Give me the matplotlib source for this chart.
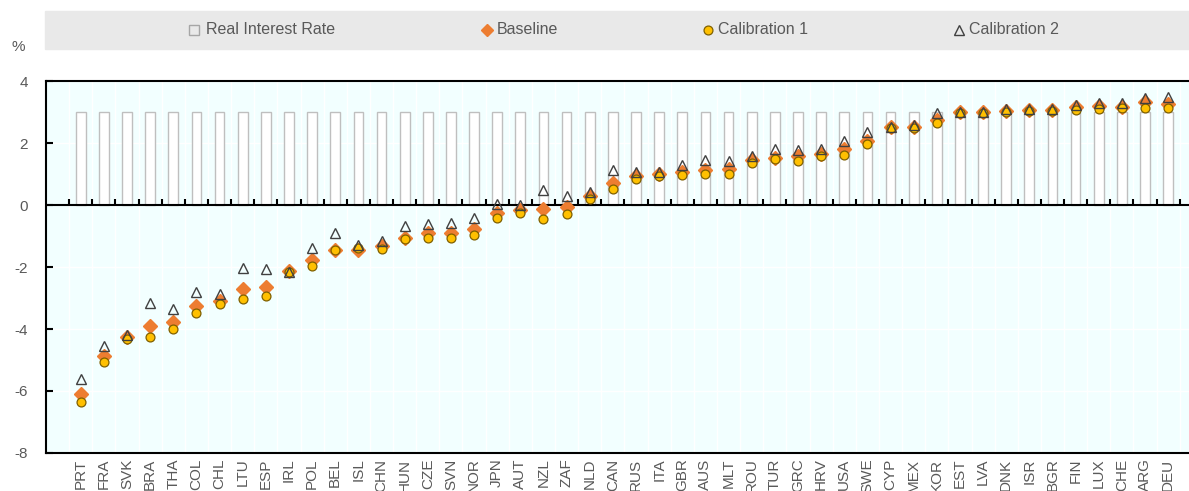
import numpy as np
import matplotlib.pyplot as plt
from matplotlib.lines import Line2D
from matplotlib.patches import Rectangle

plt.rcParams['font.family'] = ['Liberation Sans', 'DejaVu Sans']
plt.rcParams['axes.unicode_minus'] = False

countries = ['PRT', 'FRA', 'SVK', 'BRA', 'THA', 'COL', 'CHL', 'LTU', 'ESP', 'IRL',
             'POL', 'BEL', 'ISL', 'CHN', 'HUN', 'CZE', 'SVN', 'NOR', 'JPN', 'AUT',
             'NZL', 'ZAF', 'NLD', 'CAN', 'RUS', 'ITA', 'GBR', 'AUS', 'MLT', 'ROU',
             'TUR', 'GRC', 'HRV', 'USA', 'SWE', 'CYP', 'MEX', 'KOR', 'EST', 'LVA',
             'DNK', 'ISR', 'BGR', 'FIN', 'LUX', 'CHE', 'ARG', 'DEU']

real_rate = [3, 3, 3, 3, 3, 3, 3, 3, 3, 3,
             3, 3, 3, 3, 3, 3, 3, 3, 3, 3,
             3, 3, 3, 3, 3, 3, 3, 3, 3, 3,
             3, 3, 3, 3, 3, 3, 3, 3, 3, 3,
             3, 3, 3, 3, 3, 3, 3, 3]

baseline = [-6.10, -4.87, -4.25, -3.89, -3.78, -3.26, -3.09, -2.71, -2.66, -2.13,
            -1.77, -1.45, -1.45, -1.33, -1.08, -0.91, -0.89, -0.77, -0.27, -0.16,
            -0.13, -0.05, 0.29, 0.72, 0.94, 1.00, 1.08, 1.13, 1.15, 1.45,
            1.53, 1.57, 1.65, 1.80, 2.06, 2.51, 2.53, 2.74, 3.01, 2.99,
            3.04, 3.06, 3.06, 3.15, 3.19, 3.17, 3.33, 3.25]

calib1 = [-6.34, -5.06, -4.33, -4.25, -3.99, -3.49, -3.20, -3.02, -2.95, -2.17,
          -1.97, -1.45, -1.40, -1.41, -1.10, -1.08, -1.05, -0.96, -0.42, -0.25,
          -0.44, -0.29, 0.19, 0.52, 0.84, 0.94, 0.97, 0.99, 1.01, 1.37,
          1.47, 1.43, 1.59, 1.61, 1.97, 2.47, 2.47, 2.63, 2.98, 2.96,
          2.99, 3.04, 3.04, 3.06, 3.09, 3.12, 3.12, 3.12]

calib2 = [-5.62, -4.55, -4.19, -3.15, -3.37, -2.80, -2.88, -2.04, -2.08, -2.15,
          -1.38, -0.91, -1.29, -1.16, -0.67, -0.61, -0.59, -0.43, 0.02, 0.00,
          0.48, 0.30, 0.42, 1.13, 1.08, 1.08, 1.29, 1.45, 1.43, 1.58,
          1.80, 1.78, 1.80, 2.06, 2.37, 2.53, 2.58, 2.96, 3.01, 3.01,
          3.09, 3.09, 3.09, 3.23, 3.28, 3.28, 3.46, 3.47]

ORANGE = '#ED7D31'
YELLOW = '#FFC000'
GREY_TXT = '#595959'

fig = plt.figure(figsize=(11.89, 4.91), dpi=100)
ax = fig.add_axes([0.0387, 0.0774, 0.9613, 0.7576])
ax.set_facecolor('#F2FFFF')

x = np.arange(len(countries))

ax.bar(x, real_rate, width=0.42, color='white', edgecolor='#BFBFBF', linewidth=1, zorder=2)
ax.plot(x, baseline, 'D', ms=7.2, color=ORANGE, mec=ORANGE, zorder=4)
ax.plot(x, calib1, 'o', ms=6.4, color=YELLOW, mec='#7F6000', mew=0.9, zorder=5)
ax.plot(x, calib2, '^', ms=7.8, fillstyle='none', color='#404040', mew=1, zorder=6)

# zero line and its small category ticks
ax.axhline(0, color='black', lw=1.5, zorder=3)
ax.vlines(np.arange(-0.5, len(countries)), 0, 0.18, color='black', lw=1.5, zorder=3)

ax.set_xlim(-1.5, 47.9)
ax.set_ylim(-8, 4)
ax.set_yticks(np.arange(-8, 5, 2))
ax.set_xticks(x)
ax.set_xticklabels(countries, rotation=90, va='top')
ax.set_xticks(np.arange(-0.5, len(countries)), minor=True)

ax.grid(axis='x', which='minor', color='white', lw=1)
ax.grid(axis='y', which='major', color='white', lw=1)
ax.set_axisbelow(True)

ax.tick_params(axis='x', which='both', length=0, pad=4, labelsize=11, labelcolor=GREY_TXT)
ax.tick_params(axis='y', direction='in', length=5, width=1.5, pad=13, labelsize=11,
               labelcolor=GREY_TXT)

for side in ['top', 'left', 'bottom']:
    ax.spines[side].set_linewidth(1.5)
    ax.spines[side].set_color('black')
ax.spines['right'].set_visible(False)

fig.text(18 / 1189, 1 - 47 / 491, '%', fontsize=11, color=GREY_TXT, ha='center', va='center')

# legend band
fig.patches.append(Rectangle((45 / 1189, 1 - 49 / 491), 1144 / 1189, 38 / 491,
                             transform=fig.transFigure, color='#E9E9E9', zorder=0))
ly = 1 - 30 / 491
items = [
    (194, 206, 'Real Interest Rate', dict(marker='s', ms=7, mfc='none', mec='#A6A6A6', mew=1)),
    (487, 497, 'Baseline', dict(marker='D', ms=6.5, mfc=ORANGE, mec=ORANGE)),
    (708, 718, 'Calibration 1', dict(marker='o', ms=6.4, mfc=YELLOW, mec='#7F6000', mew=0.9)),
    (959, 969, 'Calibration 2', dict(marker='^', ms=7.8, mfc='none', mec='#404040', mew=1)),
]
for mx, tx, label, style in items:
    fig.add_artist(Line2D([mx / 1189], [ly], transform=fig.transFigure, ls='none', **style))
    fig.text(tx / 1189, ly, label, fontsize=11.5, color=GREY_TXT, ha='left', va='center')

fig.savefig('out.png', dpi=100)
